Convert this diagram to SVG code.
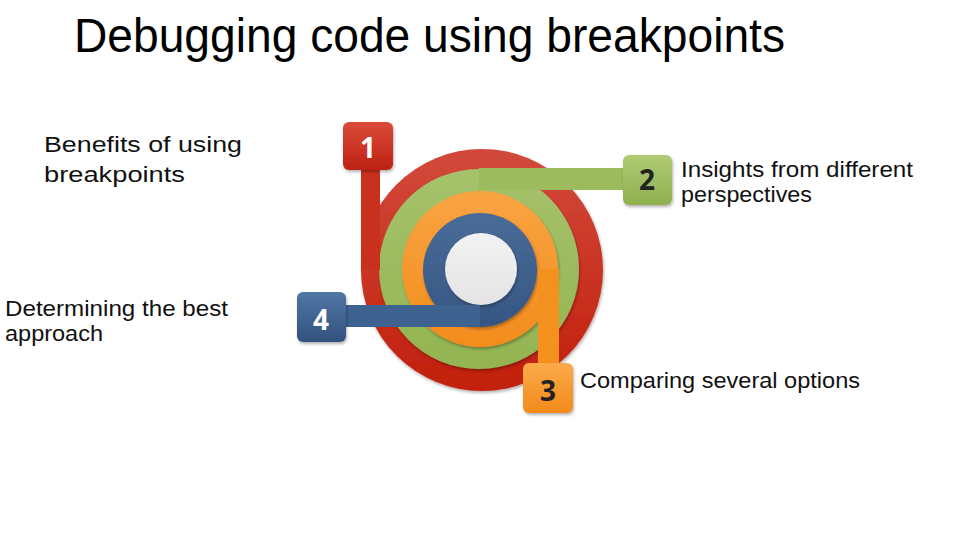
<svg xmlns="http://www.w3.org/2000/svg" width="980" height="550" viewBox="0 0 980 550">
<defs>
<style>
.title{font-family:"Liberation Sans",Arial,sans-serif;font-size:48px;fill:#000}
.lbl{font-family:"Liberation Sans",Arial,sans-serif;font-size:22px;fill:#111}
.num{font-family:"Open Sans","Liberation Sans",sans-serif;font-size:28px;font-weight:bold;text-anchor:middle}
.w{fill:#fff}
.d{fill:#222}
</style>
<linearGradient id="gRed" x1="0" y1="0" x2="0" y2="1"><stop offset="0" stop-color="#D24A3C"/><stop offset="1" stop-color="#C21F0C"/></linearGradient>
<linearGradient id="gGreen" x1="0" y1="0" x2="0" y2="1"><stop offset="0" stop-color="#A6C26C"/><stop offset="1" stop-color="#93B451"/></linearGradient>
<linearGradient id="gOrange" x1="0" y1="0" x2="0" y2="1"><stop offset="0" stop-color="#F9A443"/><stop offset="1" stop-color="#F38C1C"/></linearGradient>
<linearGradient id="gBlue" x1="0" y1="0" x2="0" y2="1"><stop offset="0" stop-color="#4A6C98"/><stop offset="1" stop-color="#355682"/></linearGradient>
<linearGradient id="gWhite" x1="0" y1="0" x2="0" y2="1"><stop offset="0" stop-color="#F2F2F2"/><stop offset="1" stop-color="#E4E4E4"/></linearGradient>
<linearGradient id="bRed" x1="0" y1="0" x2="0" y2="1"><stop offset="0" stop-color="#DA4A38"/><stop offset="1" stop-color="#BE2214"/></linearGradient>
<linearGradient id="bGreen" x1="0" y1="0" x2="0" y2="1"><stop offset="0" stop-color="#AFCB74"/><stop offset="1" stop-color="#8FAF4E"/></linearGradient>
<linearGradient id="bOrange" x1="0" y1="0" x2="0" y2="1"><stop offset="0" stop-color="#FBAA4A"/><stop offset="1" stop-color="#F28A1A"/></linearGradient>
<linearGradient id="bBlue" x1="0" y1="0" x2="0" y2="1"><stop offset="0" stop-color="#5176A6"/><stop offset="1" stop-color="#32527E"/></linearGradient>
<filter id="sh" x="-20%" y="-20%" width="140%" height="140%"><feDropShadow dx="1" dy="2" stdDeviation="1.5" flood-color="#000" flood-opacity="0.3"/></filter>
</defs>
<rect width="980" height="550" fill="#fff"/>
<text class="title" x="74" y="52" textLength="711" lengthAdjust="spacingAndGlyphs">Debugging code using breakpoints</text>
<g id="rings">
<circle cx="482" cy="270" r="121" fill="url(#gRed)" filter="url(#sh)"/>
<circle cx="479" cy="269" r="100" fill="url(#gGreen)" filter="url(#sh)"/>
<circle cx="480" cy="269" r="78" fill="url(#gOrange)" filter="url(#sh)"/>
<circle cx="480" cy="270" r="57" fill="url(#gBlue)" filter="url(#sh)"/>
<circle cx="481" cy="269" r="36" fill="url(#gWhite)" filter="url(#sh)"/>
</g>
<g id="connectors">
<rect x="361" y="166" width="19" height="104" fill="#C9301D"/>
<rect x="479" y="168" width="146" height="22" fill="#9CBB5C"/>
<rect x="538" y="269" width="21" height="96" fill="#F4901E"/>
<rect x="344" y="305" width="136" height="22" fill="#3F6390"/>
</g>
<g id="node0">
<text class="lbl" x="44" y="152" textLength="198" lengthAdjust="spacingAndGlyphs">Benefits of using</text>
<text class="lbl" x="44" y="182" textLength="141" lengthAdjust="spacingAndGlyphs">breakpoints</text>
</g>
<g id="node1">
<rect x="343" y="122" width="50" height="48" rx="6" fill="url(#bRed)" filter="url(#sh)"/>
<text class="num w" x="368" y="158">1</text>
</g>
<g id="node2">
<rect x="623" y="155" width="49" height="50" rx="6" fill="url(#bGreen)" filter="url(#sh)"/>
<text class="num d" x="647" y="190">2</text>
<text class="lbl" x="681" y="177" textLength="232" lengthAdjust="spacingAndGlyphs">Insights from different</text>
<text class="lbl" x="681" y="202" textLength="131" lengthAdjust="spacingAndGlyphs">perspectives</text>
</g>
<g id="node3">
<rect x="523" y="363" width="50" height="50" rx="6" fill="url(#bOrange)" filter="url(#sh)"/>
<text class="num d" x="548" y="401">3</text>
<text class="lbl" x="580" y="388" textLength="280" lengthAdjust="spacingAndGlyphs">Comparing several options</text>
</g>
<g id="node4">
<rect x="297" y="292" width="49" height="50" rx="6" fill="url(#bBlue)" filter="url(#sh)"/>
<text class="num w" x="321" y="330">4</text>
<text class="lbl" x="5" y="316" textLength="223" lengthAdjust="spacingAndGlyphs">Determining the best</text>
<text class="lbl" x="5" y="341" textLength="98" lengthAdjust="spacingAndGlyphs">approach</text>
</g>
</svg>
